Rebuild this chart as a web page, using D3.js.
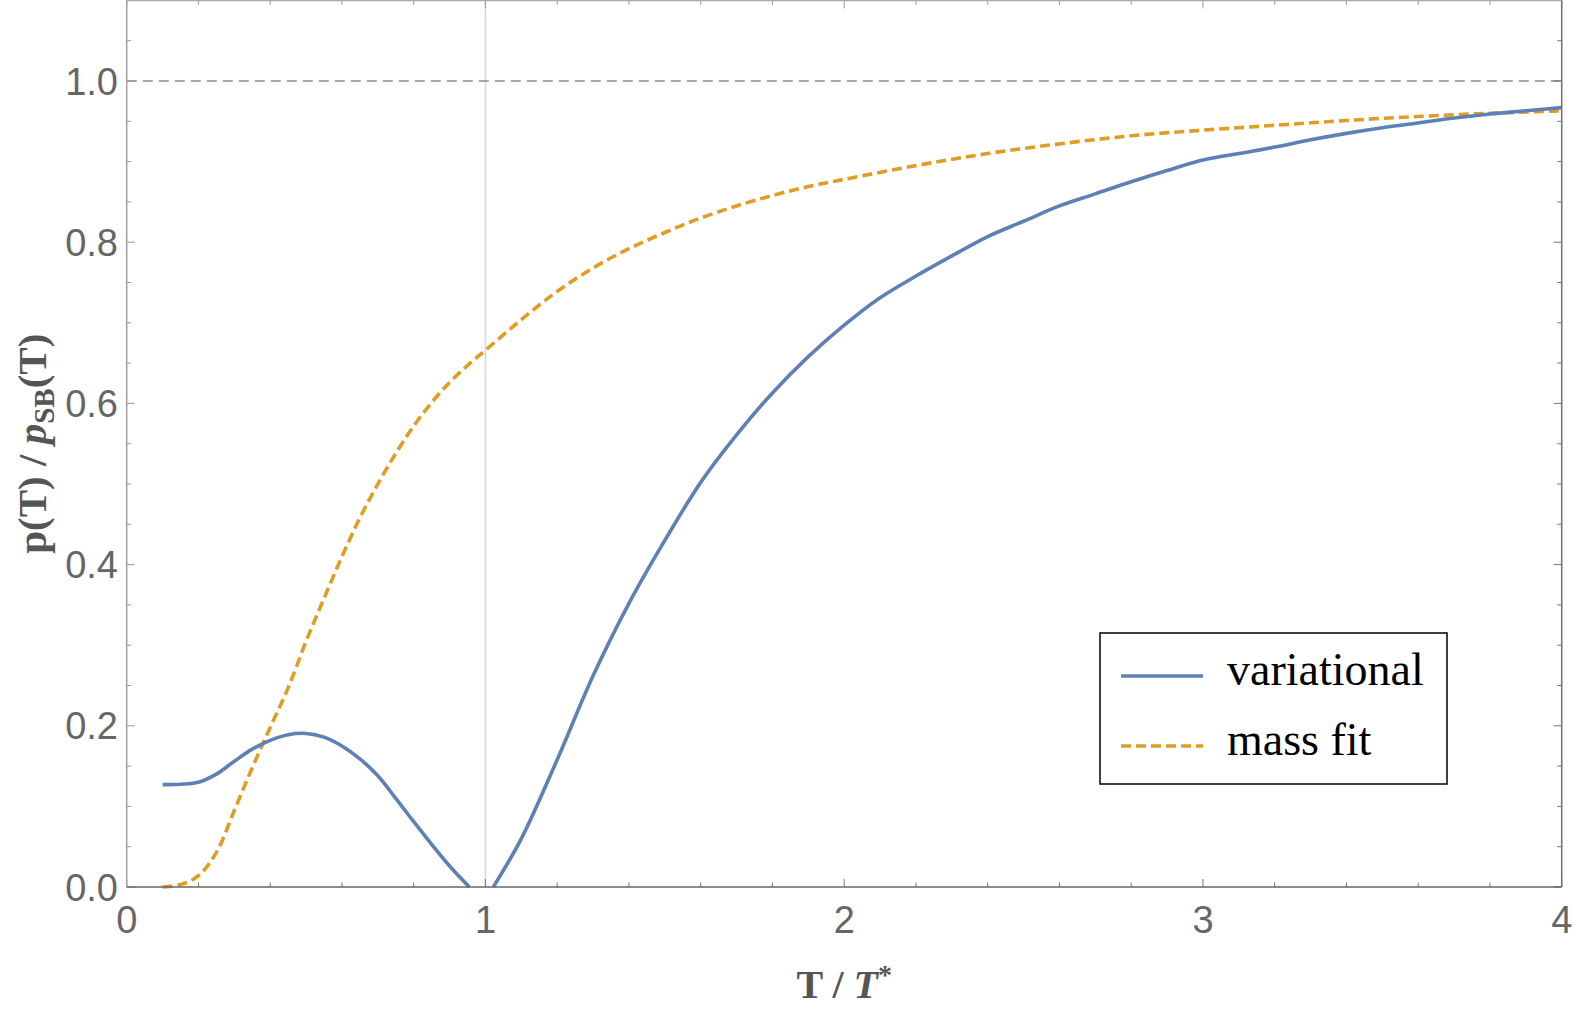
<!DOCTYPE html>
<html>
<head>
<meta charset="utf-8">
<script src="https://cdn.jsdelivr.net/npm/d3@7"></script>
<style>
  html, body { margin: 0; padding: 0; background: #fff; }
  svg { display: block; }
</style>
</head>
<body>
<div id="chart"></div>
<script>
const WIDTH = 1575;
const HEIGHT = 1013;

// T / T* sample points and p/p_SB values
const varLeftT = [0.1, 0.15, 0.2, 0.25, 0.3, 0.35, 0.4, 0.45, 0.5, 0.55, 0.6, 0.65, 0.7, 0.75, 0.8, 0.85, 0.9, 0.955];
const varLeftP = [0.127, 0.1275, 0.130, 0.140, 0.156, 0.171, 0.182, 0.189, 0.1905, 0.186, 0.175, 0.159, 0.138, 0.110, 0.081, 0.053, 0.026, 0.0];

const varRightT = [1.022, 1.1, 1.2, 1.3, 1.4, 1.5, 1.6, 1.7, 1.8, 1.9, 2.0, 2.1, 2.2, 2.3, 2.4, 2.5, 2.6, 2.7, 2.8, 2.9, 3.0, 3.1, 3.2, 3.3, 3.4, 3.5, 3.6, 3.7, 3.8, 3.9, 4.0];
const varRightP = [0.0, 0.06, 0.158, 0.262, 0.352, 0.430, 0.502, 0.561, 0.613, 0.658, 0.697, 0.731, 0.758, 0.783, 0.807, 0.826, 0.845, 0.860, 0.875, 0.889, 0.902, 0.910, 0.918, 0.927, 0.935, 0.942, 0.948, 0.954, 0.959, 0.963, 0.967];

const massT = [0.1, 0.15, 0.2, 0.25, 0.3, 0.35, 0.4, 0.45, 0.5, 0.55, 0.6, 0.65, 0.7, 0.75, 0.8, 0.85, 0.9, 0.95, 1.0, 1.1, 1.2, 1.3, 1.4, 1.5, 1.6, 1.7, 1.8, 1.9, 2.0, 2.2, 2.4, 2.6, 2.8, 3.0, 3.2, 3.4, 3.6, 3.8, 4.0];
const massP = [0.0, 0.003, 0.014, 0.043, 0.095, 0.148, 0.198, 0.247, 0.305, 0.358, 0.410, 0.458, 0.500, 0.538, 0.572, 0.601, 0.626, 0.647, 0.666, 0.704, 0.739, 0.768, 0.792, 0.812, 0.830, 0.845, 0.858, 0.869, 0.878, 0.895, 0.910, 0.922, 0.932, 0.939, 0.945, 0.951, 0.956, 0.960, 0.963];

const xTicks = [0, 1, 2, 3, 4];
const yTicks = [0.0, 0.2, 0.4, 0.6, 0.8, 1.0];
const legendLabels = ['variational', 'mass fit'];

const BLUE = '#5e81b5';
const ORANGE = '#e19c24';

const x = d3.scaleLinear().domain([0, 4]).range([126.7, 1561.7]);
const y = d3.scaleLinear().domain([0, 1.1]).range([887, 887 - 1.1 * 806]);

const svg = d3.select('#chart').append('svg')
  .attr('width', WIDTH)
  .attr('height', HEIGHT);

const [x0, x1] = x.range();
const [y0, y1] = y.range();

// vertical reference at T = T*
svg.append('line')
  .attr('x1', x(1)).attr('x2', x(1))
  .attr('y1', y0).attr('y2', y1)
  .attr('stroke', '#d8d8d8')
  .attr('stroke-width', 1.6);

// horizontal SB limit
svg.append('line')
  .attr('x1', x0).attr('x2', x1)
  .attr('y1', y(1)).attr('y2', y(1))
  .attr('stroke', '#8a8a8a')
  .attr('stroke-width', 1.6)
  .attr('stroke-dasharray', '10,6');

// minor / major ticks
const xMinor = d3.range(0, 4.0001, 0.2);
const yMinor = d3.range(0, 1.1001, 0.05);

const tickG = svg.append('g').attr('stroke-width', 1);
xMinor.forEach((v) => {
  const major = Math.abs(v - Math.round(v)) < 1e-6;
  const len = major ? 8 : 4.5;
  tickG.append('line')
    .attr('x1', x(v)).attr('x2', x(v))
    .attr('y1', y0).attr('y2', y0 - len)
    .attr('stroke', '#777');
  tickG.append('line')
    .attr('x1', x(v)).attr('x2', x(v))
    .attr('y1', y1).attr('y2', y1 + len)
    .attr('stroke', '#999');
});
yMinor.forEach((v) => {
  const major = Math.abs(v * 5 - Math.round(v * 5)) < 1e-6;
  const len = major ? 8 : 4.5;
  tickG.append('line')
    .attr('x1', x0).attr('x2', x0 + len)
    .attr('y1', y(v)).attr('y2', y(v))
    .attr('stroke', '#999');
  tickG.append('line')
    .attr('x1', x1).attr('x2', x1 - len)
    .attr('y1', y(v)).attr('y2', y(v))
    .attr('stroke', '#777');
});

// curves
const line = d3.line()
  .x((d) => x(d[0]))
  .y((d) => y(d[1]))
  .curve(d3.curveCatmullRom.alpha(0.5));

const plot = svg.append('g');
plot.append('path')
  .datum(d3.zip(massT, massP))
  .attr('fill', 'none')
  .attr('stroke', ORANGE)
  .attr('stroke-width', 3.6)
  .attr('stroke-dasharray', '10,5')
  .attr('d', line);

[d3.zip(varLeftT, varLeftP), d3.zip(varRightT, varRightP)].forEach((seg) => {
  plot.append('path')
    .datum(seg)
    .attr('fill', 'none')
    .attr('stroke', BLUE)
    .attr('stroke-width', 3.6)
    .attr('stroke-linejoin', 'round')
    .attr('d', line);
});

// frame
svg.append('line').attr('x1', x0).attr('x2', x1).attr('y1', y1).attr('y2', y1)
  .attr('stroke', '#a8a8a8').attr('stroke-width', 1.5);
svg.append('line').attr('x1', x0).attr('x2', x0).attr('y1', y0).attr('y2', y1)
  .attr('stroke', '#a0a0a0').attr('stroke-width', 1.5);
svg.append('line').attr('x1', x1).attr('x2', x1).attr('y1', y0).attr('y2', y1)
  .attr('stroke', '#6e6e6e').attr('stroke-width', 1.5);
svg.append('line').attr('x1', x0).attr('x2', x1).attr('y1', y0).attr('y2', y0)
  .attr('stroke', '#666').attr('stroke-width', 1.5);

// tick labels
svg.append('g')
  .selectAll('text')
  .data(xTicks)
  .join('text')
  .attr('x', (d) => x(d))
  .attr('y', 933)
  .attr('text-anchor', 'middle')
  .attr('font-family', 'Liberation Sans, Arial, sans-serif')
  .attr('font-size', 38)
  .attr('fill', '#666')
  .text((d) => d);

svg.append('g')
  .selectAll('text')
  .data(yTicks)
  .join('text')
  .attr('x', 118)
  .attr('y', (d) => y(d))
  .attr('dy', '0.36em')
  .attr('text-anchor', 'end')
  .attr('font-family', 'Liberation Sans, Arial, sans-serif')
  .attr('font-size', 38)
  .attr('fill', '#666')
  .text((d) => d.toFixed(1));

// axis titles
const serif = 'Liberation Serif, Times New Roman, serif';
const xt = svg.append('text')
  .attr('x', (x0 + x1) / 2)
  .attr('y', 998)
  .attr('text-anchor', 'middle')
  .attr('font-family', serif)
  .attr('font-weight', 'bold')
  .attr('font-size', 40)
  .attr('fill', '#555');
xt.append('tspan').text('T / ');
xt.append('tspan').attr('font-style', 'italic').text('T');
xt.append('tspan').attr('font-size', 28).attr('dy', -14).text('*');

const yt = svg.append('text')
  .attr('transform', `translate(46, ${(y0 + y1) / 2}) rotate(-90)`)
  .attr('text-anchor', 'middle')
  .attr('font-family', serif)
  .attr('font-weight', 'bold')
  .attr('font-size', 41)
  .attr('fill', '#555');
yt.append('tspan').text('p(T) / ');
yt.append('tspan').attr('font-style', 'italic').text('p');
yt.append('tspan').attr('font-size', 29).attr('dy', 8).text('SB');
yt.append('tspan').attr('dy', -8).text('(T)');

// legend
const legend = svg.append('g');
legend.append('rect')
  .attr('x', 1100).attr('y', 633)
  .attr('width', 347).attr('height', 151)
  .attr('fill', '#fff')
  .attr('stroke', '#111')
  .attr('stroke-width', 1.6);

const legendStyles = [
  { color: BLUE, dash: null },
  { color: ORANGE, dash: '10,5' },
];
legendLabels.forEach((lab, i) => {
  const ly = 676 + i * 70;
  legend.append('line')
    .attr('x1', 1121).attr('x2', 1203)
    .attr('y1', ly).attr('y2', ly)
    .attr('stroke', legendStyles[i].color)
    .attr('stroke-width', 3.6)
    .attr('stroke-dasharray', legendStyles[i].dash);
  legend.append('text')
    .attr('x', 1227)
    .attr('y', ly + 9)
    .attr('font-family', serif)
    .attr('font-size', 46)
    .attr('fill', '#000')
    .text(lab);
});
</script>
</body>
</html>
